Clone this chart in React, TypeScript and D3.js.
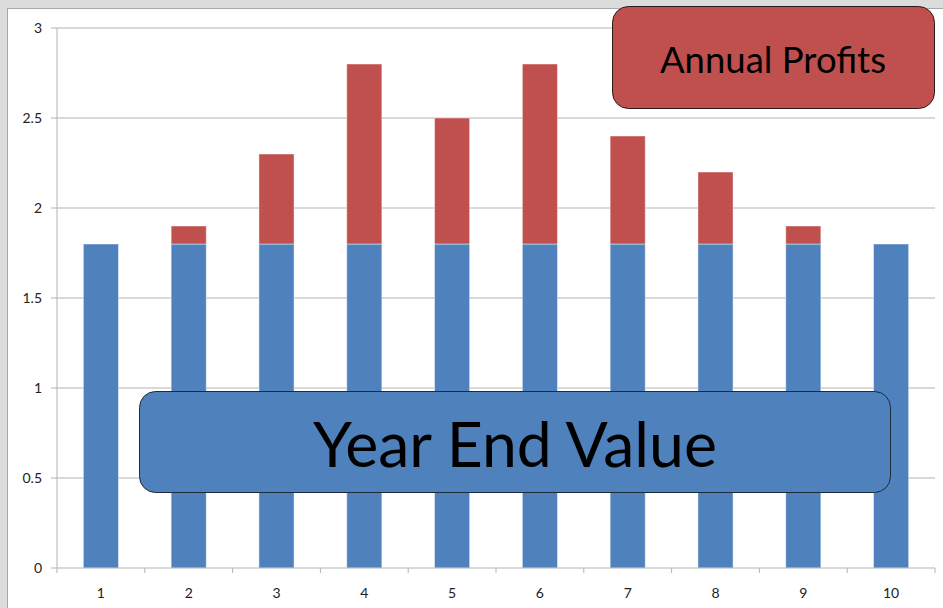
import React from 'react';
import * as d3 from 'd3';

const years = ['1', '2', '3', '4', '5', '6', '7', '8', '9', '10'];
const yearEndValue = [1.8, 1.8, 1.8, 1.8, 1.8, 1.8, 1.8, 1.8, 1.8, 1.8];
const annualProfits = [0, 0.1, 0.5, 1.0, 0.7, 1.0, 0.6, 0.4, 0.1, 0];
const yTicks = [0, 0.5, 1, 1.5, 2, 2.5, 3];

const W = 943;
const H = 608;
const margin = { top: 28, right: 8, bottom: 40, left: 57 };

const BLUE = '#4f81bd';
const RED = '#c0504d';
const GRID = '#b3b3b3';
const FONT = 'Lato, "Open Sans", sans-serif';

export default function App() {
  const x = d3.scaleBand<string>()
    .domain(years)
    .range([margin.left, W - margin.right])
    .paddingInner(0.6)
    .paddingOuter(0.3);

  const y = d3.scaleLinear()
    .domain([0, 3])
    .range([H - margin.bottom, margin.top]);

  const rows = years.map((yr, i) => ({ year: yr, base: yearEndValue[i], profit: annualProfits[i] }));
  const series = d3.stack<any>().keys(['base', 'profit'])(rows);
  const colors = [BLUE, RED];

  const step = x.step();
  const xEdges = years.map((_, i) => margin.left + i * step).concat([W - margin.right]);

  return (
    <svg width={W} height={H} style={{ position: 'fixed', left: 0, top: 0 }}>
      <rect x={0} y={0} width={W} height={H} fill="#dcdcdc" />
      <rect x={7.5} y={8.5} width={W} height={H} fill="#fff" stroke="#a8a8a8" />

      {/* gridlines + y axis */}
      {yTicks.map(t => (
        <g key={t}>
          {t > 0 && (
            <line x1={margin.left} x2={W - margin.right} y1={y(t)} y2={y(t)} stroke={GRID} />
          )}
          <line x1={margin.left - 6} x2={margin.left} y1={y(t)} y2={y(t)} stroke={GRID} />
          <text x={margin.left - 15} y={y(t)} dy="0.35em" textAnchor="end"
            fontFamily={FONT} fontSize={14} fill="#222">{t}</text>
        </g>
      ))}
      <line x1={margin.left} x2={margin.left} y1={y(3)} y2={y(0)} stroke={GRID} />

      {/* bars */}
      {series.map((s, si) => (
        <g key={s.key}>
          {s.map((d, i) => (
            d[1] - d[0] > 0 ? (
              <rect key={i} x={x(years[i])} width={x.bandwidth()}
                y={y(d[1])} height={y(d[0]) - y(d[1])}
                fill={colors[si]} stroke="#ffffff" strokeOpacity={0.45} strokeWidth={1} />
            ) : null
          ))}
        </g>
      ))}

      {/* x axis */}
      <line x1={margin.left} x2={W - margin.right} y1={y(0)} y2={y(0)} stroke={GRID} />
      {xEdges.map((e, i) => (
        <line key={i} x1={e} x2={e} y1={y(0)} y2={y(0) + 5} stroke={GRID} />
      ))}
      {years.map(yr => (
        <text key={yr} x={(x(yr) ?? 0) + x.bandwidth() / 2} y={y(0) + 25} dy="0.35em"
          textAnchor="middle" fontFamily={FONT} fontSize={14} fill="#222">{yr}</text>
      ))}

      {/* labels */}
      <rect x={612.5} y={6.5} width={322} height={102} rx={16} fill={RED} stroke="#2b1a1a" />
      <text x={773} y={60} dy="0.35em" textAnchor="middle" fontFamily={FONT} fontSize={36.5} fill="#000">
        Annual Profits
      </text>

      <rect x={139.5} y={391.5} width={751} height={101} rx={16} fill={BLUE} stroke="#1d2a3a" />
      <text x={515} y={445} dy="0.35em" textAnchor="middle" fontFamily={FONT} fontSize={62.5} fill="#000">
        Year End Value
      </text>
    </svg>
  );
}
